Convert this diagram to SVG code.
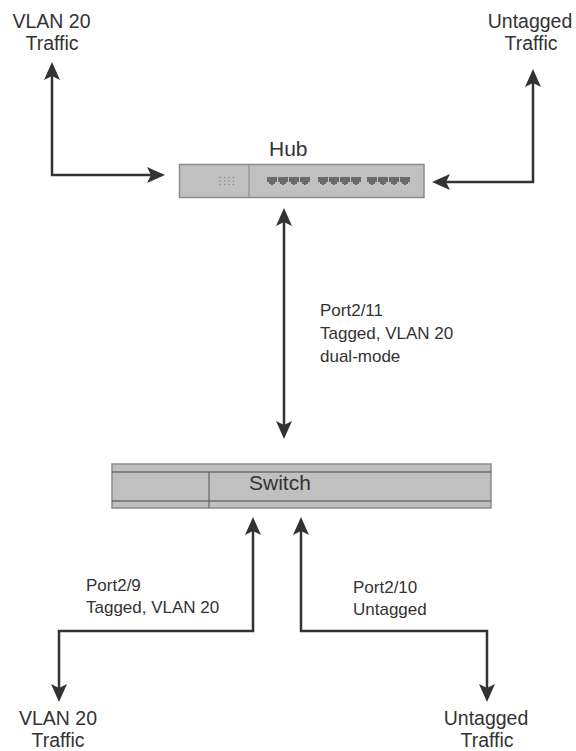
<svg xmlns="http://www.w3.org/2000/svg" width="576" height="751" viewBox="0 0 576 751">
<style>
text{font-family:"Liberation Sans",Arial,Helvetica,sans-serif;fill:#333}
.big{font-size:19.5px}
.lbl{font-size:17px}
.dev{font-size:21px}
.conn{fill:none;stroke:#333;stroke-width:2.5;stroke-linejoin:miter}
.box{fill:#c0c0c0;stroke:#8c8c8c;stroke-width:1.5}
.port{fill:#6a6a6a}
.dot{fill:#8a8a8a}
</style>
<defs>
<marker id="ah" viewBox="0 0 18 16" markerWidth="18" markerHeight="16" markerUnits="userSpaceOnUse" refX="4" refY="8" orient="auto-start-reverse">
<path d="M0,0 L18,8 L0,16 L4,8 z" fill="#333"/>
</marker>
<path id="rj" d="M0,0 H10 V5 H8 V7 H6 V8 H4 V7 H2 V5 H0 z"/>
</defs>
<rect width="576" height="751" fill="#fff"/>
<g id="hub">
<rect class="box" x="179.5" y="164.5" width="244.5" height="33"/>
<line x1="249" y1="165" x2="249" y2="197" stroke="#9a9a9a" stroke-width="1.5"/>
<g class="dot">
<circle cx="220" cy="177.5" r="0.8"/><circle cx="224.5" cy="177.5" r="0.8"/><circle cx="229" cy="177.5" r="0.8"/><circle cx="233.5" cy="177.5" r="0.8"/>
<circle cx="220" cy="181" r="0.8"/><circle cx="224.5" cy="181" r="0.8"/><circle cx="229" cy="181" r="0.8"/><circle cx="233.5" cy="181" r="0.8"/>
<circle cx="220" cy="184.5" r="0.8"/><circle cx="224.5" cy="184.5" r="0.8"/><circle cx="229" cy="184.5" r="0.8"/><circle cx="233.5" cy="184.5" r="0.8"/>
</g>
<g class="port">
<use href="#rj" x="267" y="177"/><use href="#rj" x="278" y="177"/><use href="#rj" x="289" y="177"/><use href="#rj" x="300" y="177"/>
<use href="#rj" x="318" y="177"/><use href="#rj" x="329" y="177"/><use href="#rj" x="340" y="177"/><use href="#rj" x="351" y="177"/>
<use href="#rj" x="367" y="177"/><use href="#rj" x="378" y="177"/><use href="#rj" x="389" y="177"/><use href="#rj" x="400" y="177"/>
</g>
<text class="dev" x="269" y="156">Hub</text>
</g>
<g id="switch">
<rect class="box" x="112" y="464" width="379" height="44"/>
<line x1="112" y1="472" x2="491" y2="472" stroke="#444" stroke-width="1"/>
<line x1="112" y1="501" x2="491" y2="501" stroke="#444" stroke-width="1"/>
<line x1="209" y1="472" x2="209" y2="508" stroke="#555" stroke-width="1"/>
<text class="dev" x="249" y="490">Switch</text>
</g>
<g id="vlan20-top">
<text class="big" x="51.5" y="28" text-anchor="middle">VLAN 20</text>
<text class="big" x="52" y="50" text-anchor="middle">Traffic</text>
</g>
<g id="untagged-top">
<text class="big" x="530" y="28" text-anchor="middle">Untagged</text>
<text class="big" x="531" y="50" text-anchor="middle">Traffic</text>
</g>
<g id="vlan20-bottom">
<text class="big" x="58" y="725" text-anchor="middle">VLAN 20</text>
<text class="big" x="58" y="747" text-anchor="middle">Traffic</text>
</g>
<g id="untagged-bottom">
<text class="big" x="486" y="725" text-anchor="middle">Untagged</text>
<text class="big" x="487" y="747" text-anchor="middle">Traffic</text>
</g>
<g id="connectors">
<path class="conn" d="M52,76 L52,175 L151,175" marker-start="url(#ah)" marker-end="url(#ah)"/>
<path class="conn" d="M533,83 L533,182 L446,182" marker-start="url(#ah)" marker-end="url(#ah)"/>
<path class="conn" d="M284,222 L284,425" marker-start="url(#ah)" marker-end="url(#ah)"/>
<path class="conn" d="M253,531 L253,631 L59,631 L59,688" marker-start="url(#ah)" marker-end="url(#ah)"/>
<path class="conn" d="M301,531 L301,631 L487,631 L487,688" marker-start="url(#ah)" marker-end="url(#ah)"/>
</g>
<g id="labels">
<text class="lbl" x="320" y="316">Port2/11</text>
<text class="lbl" x="320" y="339">Tagged, VLAN 20</text>
<text class="lbl" x="320" y="362">dual-mode</text>
<text class="lbl" x="86" y="591">Port2/9</text>
<text class="lbl" x="86" y="613">Tagged, VLAN 20</text>
<text class="lbl" x="353" y="593">Port2/10</text>
<text class="lbl" x="353" y="615">Untagged</text>
</g>
</svg>
